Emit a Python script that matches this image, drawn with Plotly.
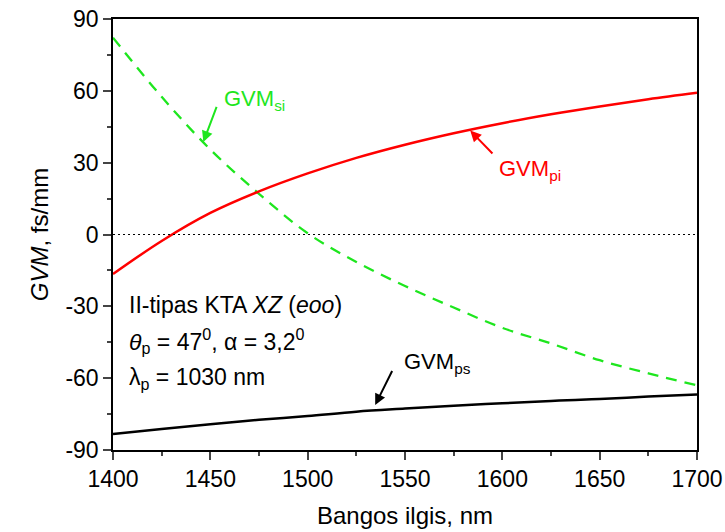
import plotly.graph_objects as go

# Wavelength grid (nm)
wavelength = [1400, 1425, 1450, 1475, 1500, 1525, 1550, 1575, 1600, 1625, 1650, 1675, 1700]

# Group velocity mismatch curves (fs/mm)
gvm_pi = [-16.5, -2.7, 9.0, 18.0, 25.5, 32.0, 37.5, 42.3, 46.5, 50.2, 53.5, 56.5, 59.2]
gvm_si = [82.2, 57.5, 35.5, 17.0, 0.5, -11.5, -21.5, -30.5, -39.0, -45.5, -52.5, -58.0, -63.0]
gvm_ps = [-83.3, -81.2, -79.2, -77.4, -75.8, -74.0, -72.7, -71.5, -70.5, -69.5, -68.7, -67.7, -66.8]

x_ticks = [1400, 1450, 1500, 1550, 1600, 1650, 1700]
y_ticks = [-90, -60, -30, 0, 30, 60, 90]
y_tick_text = ["-90", "-60", "-30", "0", "30", "60", "90"]

FONT = "Arial, Liberation Sans, sans-serif"
RED = "#ff0000"
GREEN = "#1ee61e"
BLACK = "#000000"

# plot area in pixels
W, H = 725, 532
L, R, T, B = 113, 28, 19, 82

fig = go.Figure()

fig.add_trace(go.Scatter(x=wavelength, y=gvm_si, mode="lines", line_shape="spline",
                         line=dict(color=GREEN, width=2.3, dash="11px,8px"), showlegend=False))
fig.add_trace(go.Scatter(x=wavelength, y=gvm_pi, mode="lines", line_shape="spline",
                         line=dict(color=RED, width=2.5), showlegend=False))
fig.add_trace(go.Scatter(x=wavelength, y=gvm_ps, mode="lines", line_shape="spline",
                         line=dict(color=BLACK, width=2.5), showlegend=False))

# dotted zero reference line
fig.add_shape(type="line", xref="x domain", yref="y", x0=0, x1=1, y0=0, y1=0,
              line=dict(color="black", width=1, dash="2px,3px"))

annotations = []

def arrow(tip, tail, color):
    annotations.append(dict(x=tip[0], y=tip[1], ax=tail[0], ay=tail[1],
                            xref="x", yref="y", axref="x", ayref="y",
                            text=" ", showarrow=True, arrowhead=2, arrowsize=1.1,
                            arrowwidth=2, arrowcolor=color,
                            font=dict(size=1)))

arrow((1583.5, 43.4), (1595.7, 33.2), RED)
arrow((1446.4, 38.6), (1453.6, 54.1), GREEN)
arrow((1534.7, -71.2), (1543.9, -56.2), BLACK)

def label(x, y, text, color):
    annotations.append(dict(x=x, y=y, xref="x", yref="y", text=text, showarrow=False,
                            xanchor="left", yanchor="middle",
                            font=dict(family=FONT, size=22, color=color)))

label(1597.5, 27.0, "GVM<sub>pi</sub>", RED)
label(1456.0, 56.0, "GVM<sub>si</sub>", GREEN)
label(1548.5, -53.5, "GVM<sub>ps</sub>", BLACK)

info_lines = [
    (305, "II-tipas KTA <i>XZ</i> (<i>eoo</i>)"),
    (341, "<i>θ</i><sub>p</sub> = 47<sup>0</sup>, α = 3,2<sup>0</sup>"),
    (378, "λ<sub>p</sub> = 1030 nm"),
]
pw, ph = W - L - R, H - T - B
for py, txt in info_lines:
    annotations.append(dict(x=(127 - L) / pw, y=(H - B - py) / ph, xref="paper", yref="paper",
                            text=txt, showarrow=False, xanchor="left", yanchor="middle",
                            font=dict(family=FONT, size=23, color="black")))

fig.update_layout(
    width=W, height=H,
    margin=dict(l=L, r=R, t=T, b=B, pad=0),
    paper_bgcolor="white", plot_bgcolor="white",
    font=dict(family=FONT, size=22, color="black"),
    annotations=annotations,
    xaxis=dict(range=[1400, 1700], tickvals=x_ticks, ticks="outside", ticklen=8, tickwidth=1.5,
               showline=True, linewidth=1.5, linecolor="black", mirror=True, showgrid=False,
               zeroline=False, tickfont=dict(size=23), automargin=False,
               minor=dict(dtick=25, ticks="outside", ticklen=4, tickwidth=1.5, showgrid=False),
               title=dict(text="Bangos ilgis, nm", font=dict(size=24), standoff=16)),
    yaxis=dict(range=[-90, 90], tickvals=y_ticks, ticktext=y_tick_text, ticks="outside",
               ticklen=8, tickwidth=1.5,
               showline=True, linewidth=1.5, linecolor="black", mirror=True, showgrid=False,
               zeroline=False, tickfont=dict(size=23), automargin=False,
               minor=dict(dtick=15, ticks="outside", ticklen=4, tickwidth=1.5, showgrid=False),
               title=dict(text="<i>GVM</i>, fs/mm", font=dict(size=24), standoff=10)),
)

fig.write_html("out.html")
